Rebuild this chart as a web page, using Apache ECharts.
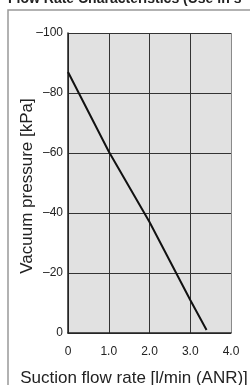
<!DOCTYPE html>
<html><head><meta charset="utf-8">
<script src="https://cdn.jsdelivr.net/npm/echarts@6/dist/echarts.min.js"></script>
<style>html,body{margin:0;padding:0;background:#fff}#c{width:250px;height:385px}</style>
</head><body><div id="c"></div>
<script>
const flowRate = [0, 1.0, 2.0, 3.0, 3.40];
const vacuum = [-87, -60.5, -37, -11, -1];
const xTicks = [0, 1, 2, 3, 4];
const yTicks = [-100, -80, -60, -40, -20, 0];
const titleText = 'Flow Rate Characteristics (Use in s';
const xName = 'Suction flow rate [l/min (ANR)]';
const yName = 'Vacuum pressure [kPa]';

const chart = echarts.init(document.getElementById('c'), null, {renderer:'canvas'});
const tickFont = '"Liberation Sans Narrow", "Arial Narrow", "Liberation Sans", Arial, sans-serif';
chart.setOption({
  animation:false,
  backgroundColor:'#fff',
  grid:{left:68, top:33, width:163, height:300, show:true, backgroundColor:'#e1e1e1', borderWidth:0},
  xAxis:{type:'value', min:0, max:4, interval:1,
    axisLine:{show:true, onZero:false, lineStyle:{color:'#222', width:1.5}},
    axisTick:{show:false},
    splitLine:{show:true, lineStyle:{color:['#333','#333','#333','#333','#8a8a8a'], width:1}},
    axisLabel:{margin:13, fontSize:12, color:'#222', fontFamily:tickFont,
      formatter:v => v === 0 ? '0' : v.toFixed(1)}
  },
  yAxis:{type:'value', min:-100, max:0, interval:20, inverse:true,
    axisLine:{show:true, onZero:false, lineStyle:{color:'#222', width:1.5}},
    axisTick:{show:false},
    splitLine:{show:true, lineStyle:{color:'#333', width:1}},
    axisLabel:{margin:5, fontSize:12, color:'#222', fontFamily:tickFont,
      formatter:v => v === 0 ? '0' : String(v).replace('-', '\u2013')}
  },
  series:[{type:'line', data:flowRate.map((x,i)=>[x, vacuum[i]]), showSymbol:false, symbol:'none',
    lineStyle:{color:'#111', width:2}}],
  graphic:[
    {type:'rect', shape:{x:8, y:10, width:300, height:400}, style:{fill:'none', stroke:'#999', lineWidth:1.5}, z:100},
    {type:'text', x:8, y:6, style:{text:titleText, font:'bold 14px "Liberation Sans Narrow", "Liberation Sans", Arial, sans-serif', fill:'#222', textVerticalAlign:'bottom'}},
    {type:'text', x:134, y:378, style:{text:xName, font:'17px "Liberation Sans", Arial, sans-serif', fill:'#222', textAlign:'center', textVerticalAlign:'middle'}},
    {type:'text', x:27, y:186, rotation:Math.PI/2, style:{text:yName, font:'17px "Liberation Sans", Arial, sans-serif', fill:'#222', textAlign:'center', textVerticalAlign:'middle'}}
  ]
});
</script></body></html>
